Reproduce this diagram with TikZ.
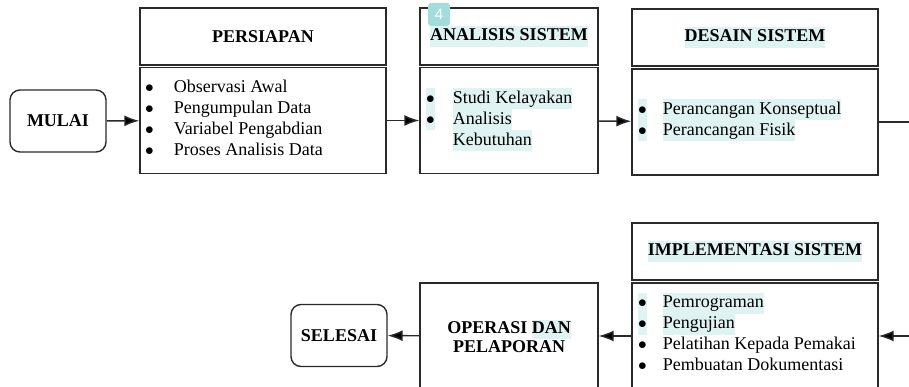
\documentclass[tikz,border=0pt]{standalone}
\usepackage{fontspec}
\setmainfont{Liberation Serif}
\newfontfamily\badgefont{Liberation Sans}
\usetikzlibrary{arrows.meta}
\definecolor{hlcyan}{HTML}{DFF4F2}
\definecolor{badgeteal}{HTML}{A3DDD9}
\definecolor{linegray}{HTML}{2A2A2A}
\newcommand{\diafont}{\fontsize{18}{21}\selectfont}
\newcommand{\hlt}[1]{{\setlength{\fboxsep}{0pt}\colorbox{hlcyan}{\strut #1}}}
\newcommand{\butir}{$\bullet$}
\tikzset{
  box/.style={draw=linegray, line width=1.4pt, rectangle, inner sep=0pt},
  head/.style={box, minimum width=246pt, minimum height=57pt, font=\diafont\bfseries},
  isi/.style={box, minimum width=246pt, minimum height=106pt},
  daftar/.style={anchor=west, inner sep=0pt, font=\diafont},
  terminal/.style={box, rounded corners=10pt, minimum width=96pt, minimum height=62pt, font=\diafont\bfseries},
  flow/.style={draw=linegray, line width=1.4pt, -{Latex[length=15pt,width=11pt,fill=black]}},
  badge/.style={fill=badgeteal, rounded corners=3pt, minimum width=22pt, minimum height=23pt, inner sep=0pt,
    text=white, font=\badgefont\fontsize{15}{15}\selectfont}
}
\begin{document}
\begin{tikzpicture}[x=1pt, y=-1pt]
    \useasboundingbox (0,0) rectangle (909,387);
    \clip (0,0) rectangle (909,387);
    % baris atas
    \node [terminal] (mulai) at (58,121) {MULAI};
    \node [head] (persiapan_h) at (263,36.5) {PERSIAPAN};
    \node [isi] (persiapan_b) at (263,120.5) {};
    \node [daftar] (persiapan_l) at (145,120) {%
      \begin{tabular}{@{}l@{\hspace{20pt}}l@{}}
        \butir & Observasi Awal\\
        \butir & Pengumpulan Data\\
        \butir & Variabel Pengabdian\\
        \butir & Proses Analisis Data
      \end{tabular}};
    \node [head, minimum width=178pt] (analisis_h) at (509,36.5) {\hlt{ANALISIS SISTEM}};
    \node [isi, minimum width=178pt] (analisis_b) at (509,120.5) {};
    \node [daftar] (analisis_l) at (426,120) {%
      \begin{tabular}{@{}l@{\hspace{18pt}}l@{}}
        \hlt{\butir} & \hlt{Studi Kelayakan}\\
        \hlt{\butir} & \hlt{Analisis}\\
        & \hlt{Kebutuhan}
      \end{tabular}};
    \node [head] (desain_h) at (755,37.5) {\hlt{DESAIN SISTEM}};
    \node [isi] (desain_b) at (755,122) {};
    \node [daftar] (desain_l) at (638,120.5) {%
      \begin{tabular}{@{}l@{\hspace{16pt}}l@{}}
        \hlt{\butir} & \hlt{Perancangan Konseptual}\\
        \hlt{\butir} & \hlt{Perancangan Fisik}
      \end{tabular}};
    \coordinate (kanan_atas) at (909,122);
    % baris bawah
    \node [head] (impl_h) at (755,251.5) {\hlt{IMPLEMENTASI SISTEM}};
    \node [isi] (impl_b) at (755,336) {};
    \node [daftar] (impl_l) at (638,335) {%
      \begin{tabular}{@{}l@{\hspace{16pt}}l@{}}
        \hlt{\butir} & \hlt{Pemrograman}\\
        \hlt{\butir} & \hlt{Pengujian}\\
        \butir & Pelatihan Kepada Pemakai\\
        \butir & Pembuatan Dokumentasi
      \end{tabular}};
    \coordinate (kanan_bawah) at (909,336);
    \node [isi, minimum width=178pt, align=center, font=\fontsize{18}{19}\selectfont\bfseries]
      (operasi) at (509,336) {OPERASI \hlt{DAN}\\PELAPORAN};
    \node [terminal] (selesai) at (339,335.5) {SELESAI};
    \node [badge] (nomor) at (439,14.5) {4};
    % alur
    \draw [flow] (mulai) -- (persiapan_b);
    \draw [flow] (persiapan_b) -- (analisis_b);
    \draw [flow] (analisis_b) -- (desain_b);
    \draw [draw=linegray, line width=1.4pt] (desain_b) -- (kanan_atas);
    \draw [flow] (kanan_bawah) -- (impl_b);
    \draw [flow] (impl_b) -- (operasi);
    \draw [flow] (operasi) -- (selesai);
  \end{tikzpicture}
\end{document}
